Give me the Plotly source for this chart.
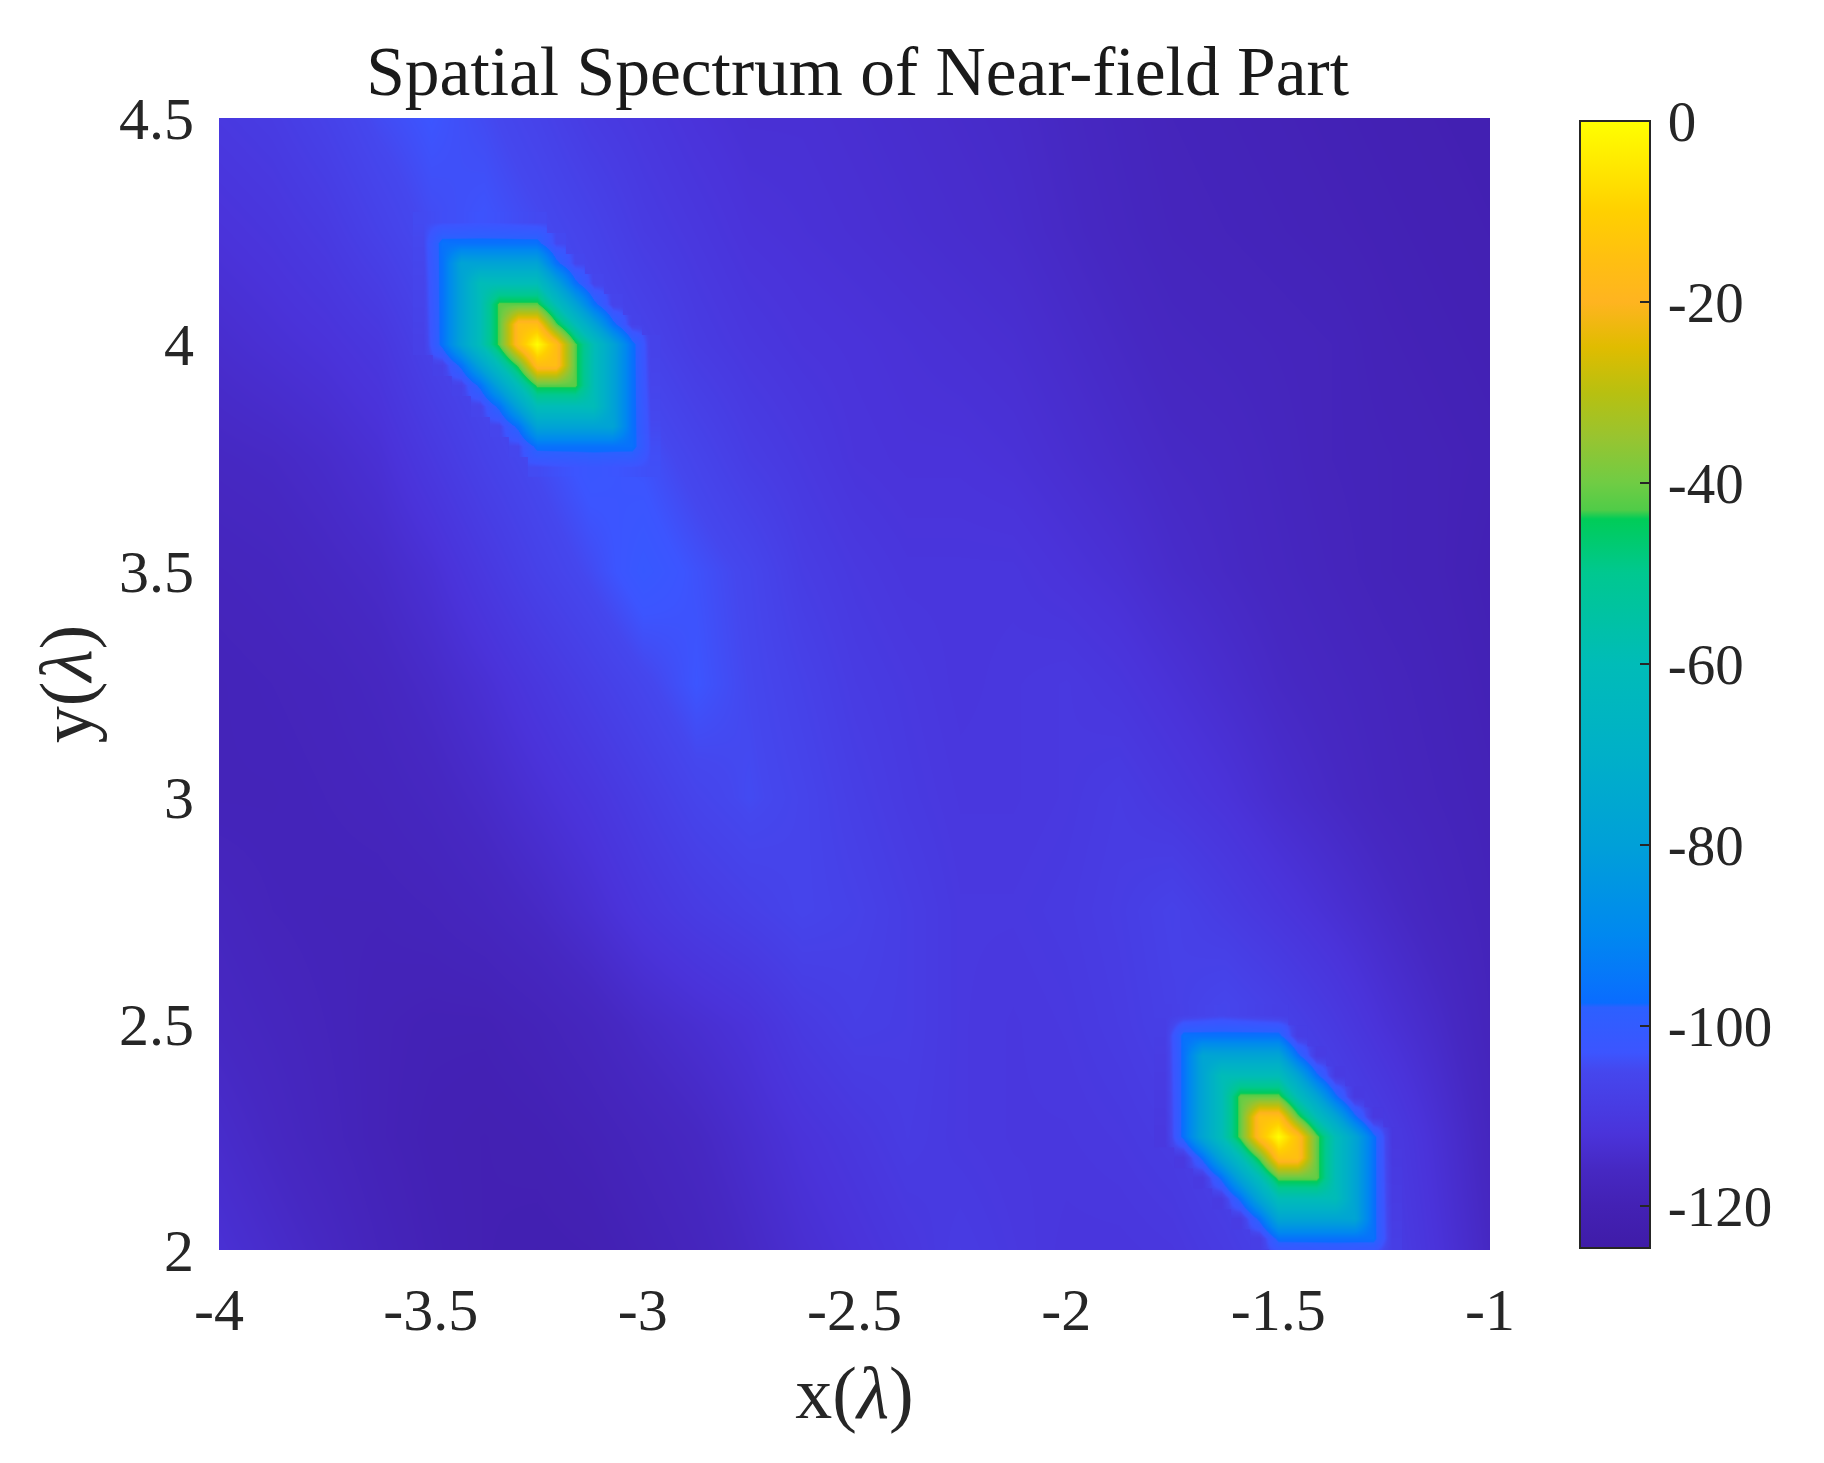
# Spatial spectrum of the near-field part

import plotly.graph_objs as go

FONT = "Liberation Serif"
N = None

# background spectrum, dB, rows go up from y = 2
x_grid = [-4, -3.875, -3.75, -3.625, -3.5, -3.375, -3.25, -3.125, -3, -2.875, -2.75, -2.625, -2.5,
          -2.375, -2.25, -2.125, -2, -1.875, -1.75, -1.625, -1.5, -1.375, -1.25, -1.125, -1]
y_grid = [2, 2.25, 2.5, 2.75, 3, 3.25, 3.5, 3.75, 4, 4.25, 4.5]
z_grid = [
    [-113, -114.5, -116, -118, -119.5, -120.5, -121, -120.5, -119, -117.5, -115.5, -113.5, -112,
     -110.5, -109, -110, -111, -111, -110.5, -109, -107, -105, -108, -112, -116],
    [-114.5, -116, -117.5, -119, -120, -120.5, -120, -119, -117.5, -116, -114, -112, -110.5,
     -109, -110, -110.5, -110.5, -110, -109, -107, -104, -106, -109, -113, -117],
    [-116, -117, -118, -119, -119.5, -119.5, -118.5, -117, -115, -113.5, -112, -109.5, -108,
     -108.5, -110, -110.5, -110, -109, -107.5, -105, -107, -109.5, -112.5, -115, -118],
    [-117, -118, -118.5, -118.5, -118, -117, -115.5, -113.5, -111, -109, -107.5, -106, -107,
     -108.5, -110, -110, -109.5, -108.5, -107, -109, -111, -113, -115, -117, -118.5],
    [-118.5, -118.5, -118, -117.5, -116.5, -115, -113, -111, -108.5, -106, -104.5, -106, -108,
     -109.5, -110.5, -110.5, -110, -109, -110.5, -112, -114, -115.5, -117, -118, -119],
    [-118.5, -118, -117.5, -116.5, -115, -113, -110.5, -108, -105.5, -103, -105, -107, -109,
     -110, -111, -110.5, -110, -111, -112.5, -114, -115.5, -116.5, -117.5, -118.5, -119.5],
    [-117.5, -117, -116, -115, -113, -110, -107, -104.5, -101.5, -103.5, -105.5, -108.5, -110,
     -111, -111, -111, -112, -113, -114.5, -115.5, -116.5, -117.5, -118.5, -119, -120],
    [-116, -115.5, -114.5, -113, -110, -107, -104.5, -102, -103.5, -106, -108.5, -110, -111.5,
     -112, -112, -112.5, -113.5, -114.5, -115.5, -116, -117, -118, -118.5, -119, -119.5],
    [-114, -113, -112, -110.5, -107, -104.5, -103, -104.5, -106.5, -109, -110.5, -111.5, -112,
     -112.5, -113, -113.5, -114.5, -115.5, -116.5, -117, -117.5, -118, -119, -119.5, -120],
    [-112, -111, -109.5, -107, -104.5, -103, -104.5, -106.5, -109, -110.5, -112, -112.5, -113,
     -113.5, -114, -114.5, -115.5, -116.5, -117.5, -118, -118.5, -119, -119.5, -120, -120.5],
    [-110, -109, -107, -104.5, -103, -104.5, -106.5, -109, -110.5, -112, -113, -113, -113.5,
     -114, -114.5, -115, -116, -117, -118, -118.5, -119, -119.5, -120, -120.5, -121],
]

# source near (-3.25, 4)
x_peak1 = [-3.52, -3.475, -3.43, -3.385, -3.34, -3.295, -3.25, -3.205, -3.16, -3.115, -3.07, -3.025, -2.98]
y_peak1 = [3.73, 3.775, 3.82, 3.865, 3.91, 3.955, 4, 4.045, 4.09, 4.135, 4.18, 4.225, 4.27]
z_peak1 = [
    [N, N, N, N, N, N, -104.5, -103.7, -103, -102.3, -102.9, -103.4, -103.9],
    [N, N, N, N, N, -105.2, -96, -96, -96, -96, -96, -96, -104.2],
    [N, N, N, N, -105.7, -96, -78, -78, -78, -78, -78, -96, -104.8],
    [N, N, N, -106.1, -96, -78, -60, -60, -60, -60, -78, -96, -105.3],
    [N, N, -106.6, -96, -78, -60, -42, -42, -42, -60, -78, -96, -105.9],
    [N, -107, -96, -78, -60, -42, -16, -16, -42, -60, -78, -96, -106.4],
    [-107.6, -96, -78, -60, -42, -16, 0, -16, -42, -60, -78, -96, -106.9],
    [-107, -96, -78, -60, -42, -16, -16, -42, -60, -78, -96, -106.6, N],
    [-106.5, -96, -78, -60, -42, -42, -42, -60, -78, -96, -106.2, N, N],
    [-106.1, -96, -78, -60, -60, -60, -60, -78, -96, -105.8, N, N, N],
    [-105.6, -96, -78, -78, -78, -78, -78, -96, -105.2, N, N, N, N],
    [-105.1, -96, -96, -96, -96, -96, -96, -104.8, N, N, N, N, N],
    [-104.6, -104, -103.7, -103.2, -103.6, -104.2, -104.7, N, N, N, N, N, N],
]

# source near (-1.5, 2.25), its lowest row lies just under the axis
x_peak2 = [-1.77, -1.725, -1.68, -1.635, -1.59, -1.545, -1.5, -1.455, -1.41, -1.365, -1.32, -1.275, -1.23]
y_peak2 = [1.98, 2.025, 2.07, 2.115, 2.16, 2.205, 2.25, 2.295, 2.34, 2.385, 2.43, 2.475, 2.52]
z_peak2 = [
    [N, N, N, N, N, N, -107.9, -107.1, -106.3, -105.5, -106.3, -107.1, -107.9],
    [N, N, N, N, N, -108.3, -96, -96, -96, -96, -96, -96, -108.3],
    [N, N, N, N, -108.7, -96, -77, -77, -77, -77, -77, -96, -108.7],
    [N, N, N, -109.1, -96, -77, -60, -60, -60, -60, -77, -96, -109.1],
    [N, N, -109.5, -96, -77, -60, -41, -41, -41, -60, -77, -96, -109.5],
    [N, -109.9, -96, -77, -60, -41, -15, -15, -41, -60, -77, -96, -109.9],
    [-110.3, -96, -77, -60, -41, -15, 0, -15, -41, -60, -77, -96, -110.3],
    [-109.9, -96, -77, -60, -41, -15, -15, -41, -60, -77, -96, -109.9, N],
    [-109.5, -96, -77, -60, -41, -41, -41, -60, -77, -96, -109.5, N, N],
    [-109.1, -96, -77, -60, -60, -60, -60, -77, -96, -109.1, N, N, N],
    [-108.7, -96, -77, -77, -77, -77, -77, -96, -108.7, N, N, N, N],
    [-108.3, -96, -96, -96, -96, -96, -96, -108.3, N, N, N, N, N],
    [-107.9, -107.1, -106.3, -105.5, -106.3, -107.1, -107.9, N, N, N, N, N, N],
]

x_ticks = [-4, -3.5, -3, -2.5, -2, -1.5, -1]
x_labels = ["-4", "-3.5", "-3", "-2.5", "-2", "-1.5", "-1"]
y_ticks = [2, 2.5, 3, 3.5, 4, 4.5]
y_labels = ["2", "2.5", "3", "3.5", "4", "4.5"]
bar_ticks = [0, -20, -40, -60, -80, -100, -120]
bar_labels = ["\u200a0", "\u200a-20", "\u200a-40", "\u200a-60", "\u200a-80", "\u200a-100", "\u200a-120"]

z_min = -124.6
# colour stops, dB and colour
stop_db = [-124.6, -120, -116, -112, -105, -103, -98, -97.5, -90, -80, -70, -60, -50, -44, -43, -40, -35, -30, -25, -20, -15, -10, -5, 0]
stop_colors = ["#3f1ca8", "#4321b4", "#4628c2", "#4a33da", "#4547ee", "#3c55ff", "#2c60ff", "#0a6cff", "#0088f0",
               "#00a0d8", "#00b0c8", "#00bcb8", "#00c890", "#00cc58", "#50cc48", "#70cc44", "#98c430",
               "#b8c010", "#e0bc00", "#ffb420", "#ffc010", "#ffd000", "#ffe800", "#ffff00"]
colorscale = [[(d - z_min) / -z_min, c] for d, c in zip(stop_db, stop_colors)]

fig = go.Figure()
for x, y, z in [(x_grid, y_grid, z_grid), (x_peak1, y_peak1, z_peak1), (x_peak2, y_peak2, z_peak2)]:
    fig.add_trace(go.Heatmap(x=x, y=y, z=z, zsmooth="best", coloraxis="coloraxis", hoverongaps=False))

fig.update_layout(
    width=1808,
    height=1447,
    margin=dict(l=211, r=326, t=110, b=205),
    paper_bgcolor="white",
    plot_bgcolor="white",
    font=dict(family=FONT, size=60, color="#262626"),
    title=dict(text="Spatial Spectrum of Near-field Part", x=0.4699, xanchor="center",
               y=0.957, yanchor="middle", font=dict(family=FONT, size=69.5, color="#1a1a1a")),
    coloraxis=dict(
        colorscale=colorscale,
        cmin=z_min,
        cmax=0,
        colorbar=dict(
            thickness=70, thicknessmode="pixels", len=0.996, lenmode="fraction",
            x=1.0706, xanchor="left", xpad=0, y=0.4995, yanchor="middle", ypad=0,
            outlinecolor="#262626", outlinewidth=2,
            tickmode="array", tickvals=bar_ticks, ticktext=bar_labels,
            ticks="inside", ticklen=11, tickwidth=2, tickcolor="#262626",
            tickfont=dict(family=FONT, size=57, color="#262626"),
        ),
    ),
    xaxis=dict(
        range=[-4, -1], tickmode="array", tickvals=x_ticks, ticktext=x_labels,
        ticks="outside", ticklen=7, tickcolor="rgba(0,0,0,0)", showgrid=False, zeroline=False,
        title=dict(text="x(<i>λ</i>)", standoff=24, font=dict(family=FONT, size=74)),
    ),
    yaxis=dict(
        range=[2, 4.5], tickmode="array", tickvals=y_ticks, ticktext=y_labels,
        ticks="outside", ticklen=12, tickcolor="rgba(0,0,0,0)", showgrid=False, zeroline=False,
        title=dict(text="y(<i>λ</i>)", standoff=3, font=dict(family=FONT, size=74)),
    ),
)

fig.write_html("out.html")
